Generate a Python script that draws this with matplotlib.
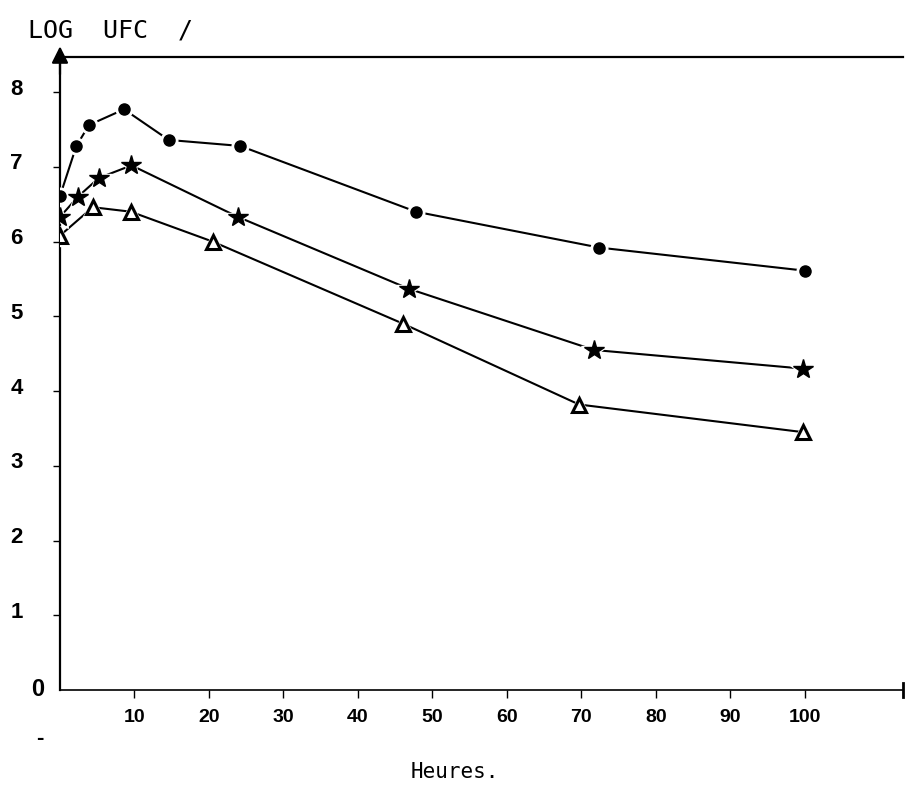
import matplotlib
matplotlib.use("Agg")
import matplotlib.pyplot as plt
from matplotlib.transforms import ScaledTranslation

# data (heures, log UFC)
hours_circle = [0, 2.2, 3.9, 8.6, 14.6, 24.2, 47.8, 72.4, 100.1]
log_circle = [6.61, 7.28, 7.56, 7.77, 7.36, 7.28, 6.40, 5.92, 5.61]

hours_star = [0, 2.4, 5.2, 9.6, 23.9, 46.8, 71.7, 99.8]
log_star = [6.33, 6.60, 6.85, 7.02, 6.33, 5.37, 4.55, 4.30]

hours_tri = [0, 4.4, 9.5, 20.5, 46.1, 69.7, 99.8]
log_tri = [6.08, 6.46, 6.40, 6.00, 4.90, 3.82, 3.45]

xticks = [10, 20, 30, 40, 50, 60, 70, 80, 90, 100]
yticks = [1, 2, 3, 4, 5, 6, 7, 8]

fig = plt.figure(figsize=(9.05, 7.87), dpi=100)
ax = fig.add_axes([60 / 905, 97 / 787, 843 / 905, 633 / 787])
ax.set_xlim(0, 113.2)
ax.set_ylim(0, 8.47)

series = [
    (hours_circle, log_circle, dict(marker='o', ms=8, mfc='black', mec='black')),
    (hours_star, log_star, dict(marker='*', ms=15, mfc='black', mec='black')),
    (hours_tri, log_tri, dict(marker='^', ms=10, mfc='white', mec='black', mew=2.2)),
]
for hx, hy, style in series:
    ax.plot(hx, hy, color='black', lw=1.5, zorder=2)
    # white halo so the line stops short of each marker
    ax.plot(hx, hy, ls='none', marker=style['marker'], ms=style['ms'] + 4,
            mfc='white', mec='white', zorder=3)
    ax.plot(hx, hy, ls='none', zorder=4, **style)

# axes lines
ax.spines['right'].set_visible(False)
for s in ['left', 'top']:
    ax.spines[s].set_linewidth(1.6)
ax.spines['bottom'].set_linewidth(1.2)
ax.annotate('', xy=(0, 8.65), xytext=(0, 8.2),
            arrowprops=dict(arrowstyle='-|>', color='black', lw=1.6,
                            mutation_scale=25), annotation_clip=False)
ax.plot([113.2, 113.2], [-0.1, 0.1], color='black', lw=2, clip_on=False)

ax.set_xticks(xticks)
ax.set_xticklabels([str(t) for t in xticks], fontsize=14, fontfamily='Liberation Sans',
                   fontweight='bold')
ax.set_yticks(yticks)
ax.set_yticklabels([str(t) for t in yticks], fontsize=16, fontfamily='Liberation Sans',
                   fontweight='bold')
ax.tick_params(axis='x', direction='out', length=6, width=1, pad=8)
ax.tick_params(axis='y', direction='out', length=5, width=1, pad=22)

offset = ScaledTranslation(0, 4 / 72, fig.dpi_scale_trans)
for lab in ax.get_yticklabels():
    lab.set_transform(lab.get_transform() + offset)

fig.text(38 / 905, 1 - 690 / 787, '0', fontsize=17, fontfamily='Liberation Sans',
         fontweight='bold', ha='center', va='center')
fig.text(40 / 905, 1 - 738 / 787, '-', fontsize=16, fontfamily='Liberation Sans',
         fontweight='bold', ha='center', va='center')

fig.text(28 / 905, 1 - 30 / 787, 'LOG  UFC  /', fontsize=18, fontfamily='DejaVu Sans Mono',
         ha='left', va='center')
fig.text(455 / 905, 1 - 772 / 787, 'Heures.', fontsize=15, fontfamily='DejaVu Sans Mono',
         ha='center', va='center')

fig.savefig('out.png', dpi=100)
